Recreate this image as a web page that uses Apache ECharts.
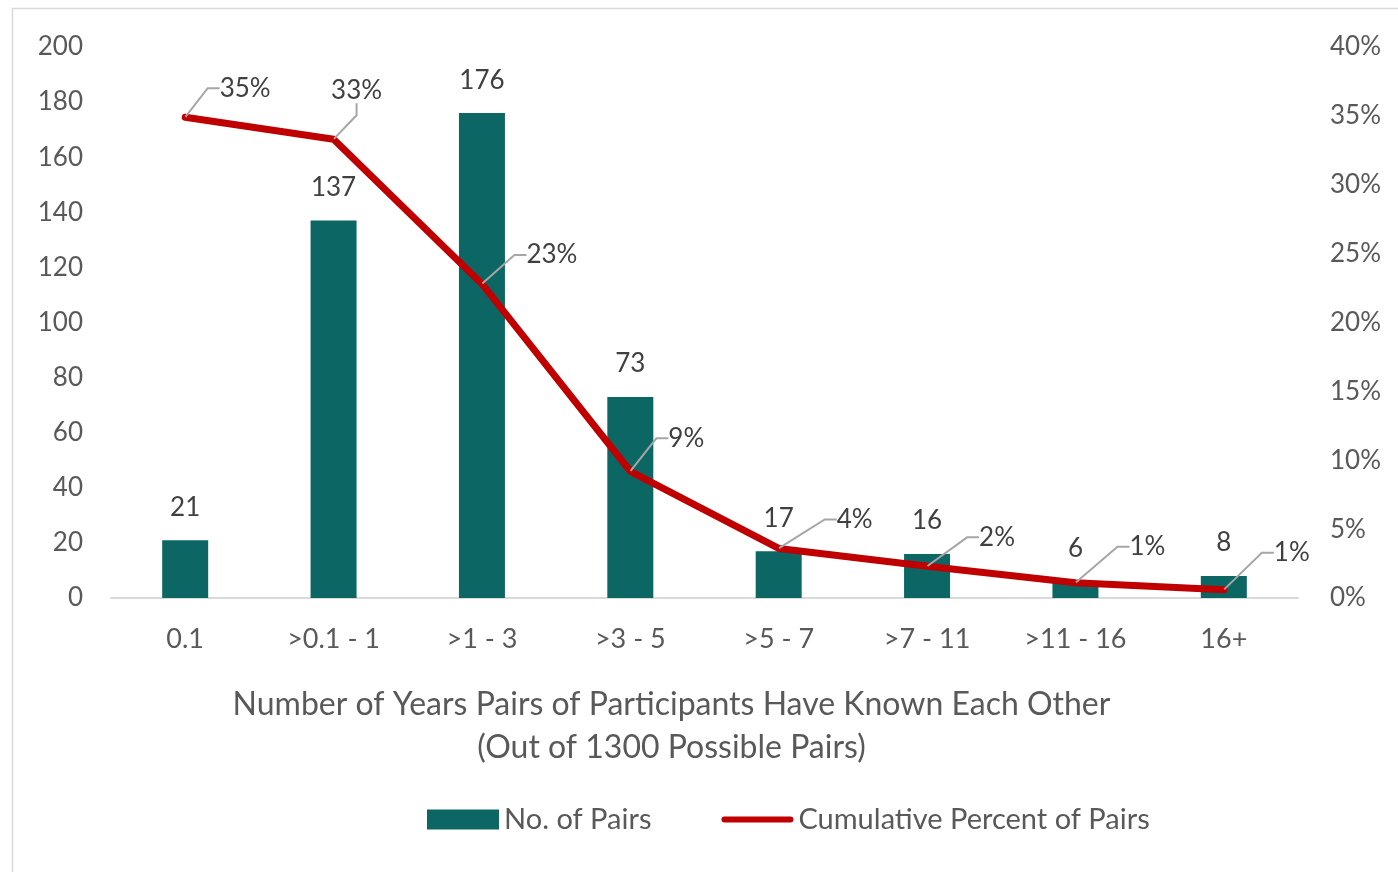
<!DOCTYPE html>
<html>
<head>
<meta charset="utf-8">
<script src="https://cdn.jsdelivr.net/npm/echarts@6/dist/echarts.min.js"></script>
<style>
  html, body { margin: 0; padding: 0; background: #fff; }
  #chart { width: 1398px; height: 872px; }
</style>
</head>
<body>
<div id="chart"></div>
<script>
// data
const categories = ["0.1", ">0.1 - 1", ">1 - 3", ">3 - 5", ">5 - 7", ">7 - 11", ">11 - 16", "16+"];
const pairCounts = [21, 137, 176, 73, 17, 16, 6, 8];
const cumulativePct = [34.9, 33.3, 22.8, 9.2, 3.6, 2.3, 1.1, 0.6];

const FONT = "Lato";
const TEXT = "#595959";

const chart = echarts.init(document.getElementById("chart"));

// where each % callout sits, relative to its point
const calloutOffsets = [
  [60, -29], [23, -49], [70, -29], [56, -33],
  [76, -29], [70, -29], [72, -36], [68, -37]
];

chart.setOption({
  animation: false,
  textStyle: { fontFamily: FONT },
  graphic: [{
    type: "rect",
    shape: { x: 12.5, y: 8.5, width: 1400, height: 900 },
    style: { fill: "none", stroke: "#d9d9d9", lineWidth: 1.5 },
    silent: true
  }],
  grid: { left: 111, right: 100, top: 47, bottom: 274 },
  legend: {
    bottom: 33,
    left: 422,
    itemGap: 70,
    itemWidth: 72,
    itemHeight: 20,
    textStyle: { fontFamily: FONT, fontSize: 29, color: TEXT },
    data: [
      { name: "No. of Pairs", icon: "rect" },
      { name: "Cumulative Percent of Pairs", icon: "path://M3,0 L69,0 A3,3 0 0 1 69,6 L3,6 A3,3 0 0 1 3,0 Z" }
    ]
  },
  xAxis: {
    type: "category",
    data: categories,
    axisLine: { lineStyle: { color: "#d9d9d9", width: 2 } },
    axisTick: { show: false },
    axisLabel: { fontSize: 27, color: TEXT, margin: 28, fontFamily: FONT },
    name: "Number of Years Pairs of Participants Have Known Each Other\n(Out of 1300 Possible Pairs)",
    nameLocation: "middle",
    nameGap: 85,
    nameTextStyle: { fontSize: 32, color: TEXT, lineHeight: 43, fontFamily: FONT, padding: [0, 66, 0, 0] }
  },
  yAxis: [
    {
      type: "value",
      min: 0, max: 200, interval: 20,
      splitLine: { show: false },
      axisLine: { show: false },
      axisTick: { show: false },
      axisLabel: { fontSize: 26, color: TEXT, margin: 28, fontFamily: FONT }
    },
    {
      type: "value",
      min: 0, max: 40, interval: 5,
      splitLine: { show: false },
      axisLine: { show: false },
      axisTick: { show: false },
      axisLabel: { fontSize: 26, color: TEXT, margin: 32, formatter: "{value}%", fontFamily: FONT }
    }
  ],
  series: [
    {
      name: "No. of Pairs",
      type: "bar",
      data: pairCounts,
      barWidth: 46,
      itemStyle: { color: "#0c6663" },
      label: {
        show: true,
        position: "top",
        distance: 20,
        fontSize: 26,
        color: "#404040",
        fontFamily: FONT
      }
    },
    {
      name: "Cumulative Percent of Pairs",
      type: "line",
      yAxisIndex: 1,
      data: cumulativePct,
      symbol: "circle",
      symbolSize: 1,
      showSymbol: true,
      lineStyle: { color: "#c00000", width: 7, cap: "round", join: "round" },
      itemStyle: { color: "#c00000" },
      z: 3,
      label: {
        show: true,
        position: "inside",
        fontSize: 26,
        color: "#404040",
        fontFamily: FONT,
        formatter: p => Math.round(p.value) + "%"
      },
      labelLine: {
        show: true,
        length2: 12,
        lineStyle: { color: "#a6a6a6", width: 2 }
      },
      labelLayout: p => ({
        dx: calloutOffsets[p.dataIndex][0],
        dy: calloutOffsets[p.dataIndex][1]
      })
    }
  ]
});
</script>
</body>
</html>
